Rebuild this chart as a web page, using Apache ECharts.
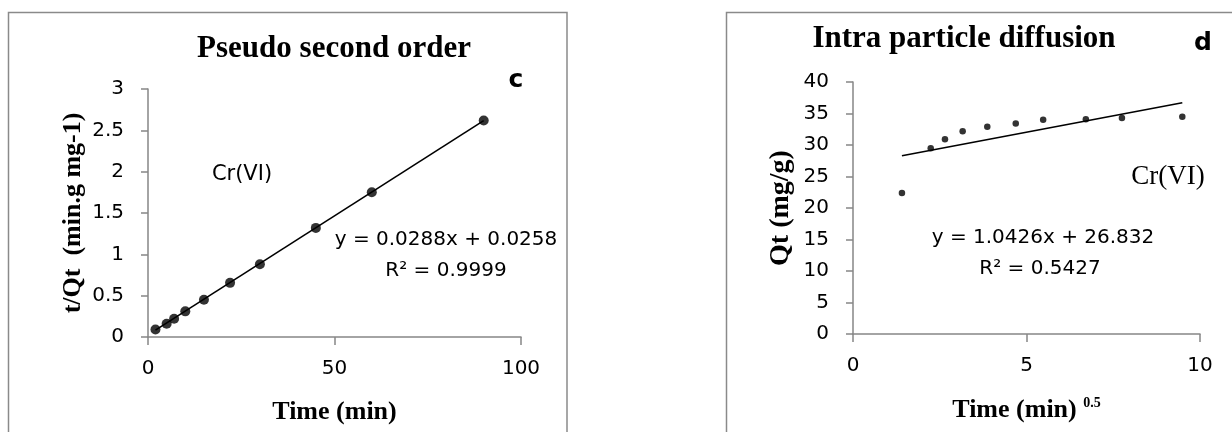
<!DOCTYPE html>
<html>
<head>
<meta charset="utf-8">
<script src="https://cdn.jsdelivr.net/npm/echarts@6/dist/echarts.min.js"></script>
<style>
html,body{margin:0;padding:0;background:#fff;}
#chart{width:1232px;height:432px;}
</style>
</head>
<body>
<div id="chart"></div>
<script>
// Panel c: pseudo second order
const timeMin = [2, 5, 7, 10, 15, 22, 30, 45, 60, 90];
const tOverQt = [0.09, 0.16, 0.22, 0.31, 0.45, 0.655, 0.88, 1.32, 1.75, 2.62];
const trendC_x = [2, 90];
const trendC_y = [0.083, 2.618];
const xTicksC = [0, 50, 100];
const yTicksC = [0, 0.5, 1, 1.5, 2, 2.5, 3];

// Panel d: intra particle diffusion
const sqrtTime = [1.41, 2.24, 2.65, 3.16, 3.87, 4.69, 5.48, 6.71, 7.75, 9.49];
const qtValues = [22.4, 29.5, 30.9, 32.2, 32.9, 33.4, 34.0, 34.1, 34.3, 34.5];
const trendD_x = [1.41, 9.49];
const trendD_y = [28.3, 36.7];
const xTicksD = [0, 5, 10];
const yTicksD = [0, 5, 10, 15, 20, 25, 30, 35, 40];

const sans = 'DejaVu Sans';
const serif = 'Liberation Serif';
const axisGray = '#868686';

function pairs(xs, ys) { return xs.map((x, i) => [x, ys[i]]); }

const chart = echarts.init(document.getElementById('chart'), null, {renderer: 'canvas'});

function xAxisCfg(gi, ticks, nameRich, gap) {
  return {
    gridIndex: gi, type: 'value',
    min: ticks[0], max: ticks[ticks.length - 1], interval: ticks[1] - ticks[0],
    axisLine: {show: true, onZero: false, lineStyle: {color: axisGray, width: 1.5}},
    axisTick: {show: true, length: 8, lineStyle: {color: axisGray, width: 1.5}},
    splitLine: {show: false},
    axisLabel: {color: '#000', fontFamily: sans, fontSize: 20, margin: 22},
    name: nameRich, nameLocation: 'middle', nameGap: gap,
    nameTextStyle: {color: '#000', fontFamily: serif, fontWeight: 'bold', fontSize: 26,
      rich: {sup: {fontFamily: serif, fontWeight: 'bold', fontSize: 14, verticalAlign: 'top', padding: [0,0,14,0], color: '#000'}}}
  };
}
function yAxisCfg(gi, ticks, name, gap, fs) {
  return {
    gridIndex: gi, type: 'value',
    min: ticks[0], max: ticks[ticks.length - 1], interval: ticks[1] - ticks[0],
    axisLine: {show: true, onZero: false, lineStyle: {color: axisGray, width: 1.5}},
    axisTick: {show: true, length: 7, lineStyle: {color: axisGray, width: 1.5}},
    splitLine: {show: false},
    axisLabel: {color: '#000', fontFamily: sans, fontSize: 20, margin: 24},
    name: name, nameLocation: 'middle', nameGap: gap, nameRotate: 90,
    nameTextStyle: {color: '#000', fontFamily: serif, fontWeight: 'bold', fontSize: fs}
  };
}

const option = {
  animation: false,
  backgroundColor: '#fff',
  grid: [
    {left: 148, top: 89, width: 373, height: 248},
    {left: 853, top: 82, width: 347, height: 252}
  ],
  xAxis: [
    xAxisCfg(0, xTicksC, 'Time (min)', 62),
    xAxisCfg(1, xTicksD, 'Time (min) {sup|0.5}', 62)
  ],
  yAxis: [
    yAxisCfg(0, yTicksC, 't/Qt  (min.g mg-1)', 62, 26),
    yAxisCfg(1, yTicksD, 'Qt (mg/g)', 58, 28)
  ],
  series: [
    {type: 'line', xAxisIndex: 0, yAxisIndex: 0, data: pairs(trendC_x, trendC_y),
     showSymbol: false, lineStyle: {color: '#000', width: 1.6}, z: 2},
    {type: 'scatter', xAxisIndex: 0, yAxisIndex: 0, data: pairs(timeMin, tOverQt),
     symbol: 'circle', symbolSize: 10, itemStyle: {color: '#000'}, z: 3},
    {type: 'line', xAxisIndex: 1, yAxisIndex: 1, data: pairs(trendD_x, trendD_y),
     showSymbol: false, lineStyle: {color: '#000', width: 1.6}, z: 2},
    {type: 'scatter', xAxisIndex: 1, yAxisIndex: 1, data: pairs(sqrtTime, qtValues),
     symbol: 'circle', symbolSize: 6.5, itemStyle: {color: '#000'}, z: 3}
  ],
  graphic: [
    {type: 'rect', shape: {x: 8.5, y: 12.5, width: 558.5, height: 440}, style: {fill: 'none', stroke: '#8a8a8a', lineWidth: 1.5}, z: 0, silent: true},
    {type: 'rect', shape: {x: 726.5, y: 12.5, width: 520, height: 440}, style: {fill: 'none', stroke: '#8a8a8a', lineWidth: 1.5}, z: 0, silent: true},
    {type: 'text', x: 334, y: 49, style: {text: 'Pseudo second order', font: 'bold 31px "Liberation Serif"', fill: '#000', textAlign: 'center', textVerticalAlign: 'middle'}},
    {type: 'text', x: 964, y: 39, style: {text: 'Intra particle diffusion', font: 'bold 31px "Liberation Serif"', fill: '#000', textAlign: 'center', textVerticalAlign: 'middle'}},
    {type: 'text', x: 516, y: 80, style: {text: 'c', font: 'bold 25px "DejaVu Sans"', fill: '#000', textAlign: 'center', textVerticalAlign: 'middle'}},
    {type: 'text', x: 1203, y: 43, style: {text: 'd', font: 'bold 25px "DejaVu Sans"', fill: '#000', textAlign: 'center', textVerticalAlign: 'middle'}},
    {type: 'text', x: 242, y: 175, style: {text: 'Cr(VI)', font: '21px "DejaVu Sans"', fill: '#000', textAlign: 'center', textVerticalAlign: 'middle'}},
    {type: 'text', x: 446, y: 240, style: {text: 'y = 0.0288x + 0.0258', font: '20px "DejaVu Sans"', fill: '#000', textAlign: 'center', textVerticalAlign: 'middle'}},
    {type: 'text', x: 446, y: 271, style: {text: 'R² = 0.9999', font: '20px "DejaVu Sans"', fill: '#000', textAlign: 'center', textVerticalAlign: 'middle'}},
    {type: 'text', x: 1168, y: 177, style: {text: 'Cr(VI)', font: '27px "Liberation Serif"', fill: '#000', textAlign: 'center', textVerticalAlign: 'middle'}},
    {type: 'text', x: 1043, y: 238, style: {text: 'y = 1.0426x + 26.832', font: '20px "DejaVu Sans"', fill: '#000', textAlign: 'center', textVerticalAlign: 'middle'}},
    {type: 'text', x: 1040, y: 269, style: {text: 'R² = 0.5427', font: '20px "DejaVu Sans"', fill: '#000', textAlign: 'center', textVerticalAlign: 'middle'}}
  ]
};
chart.setOption(option);
</script>
</body>
</html>
